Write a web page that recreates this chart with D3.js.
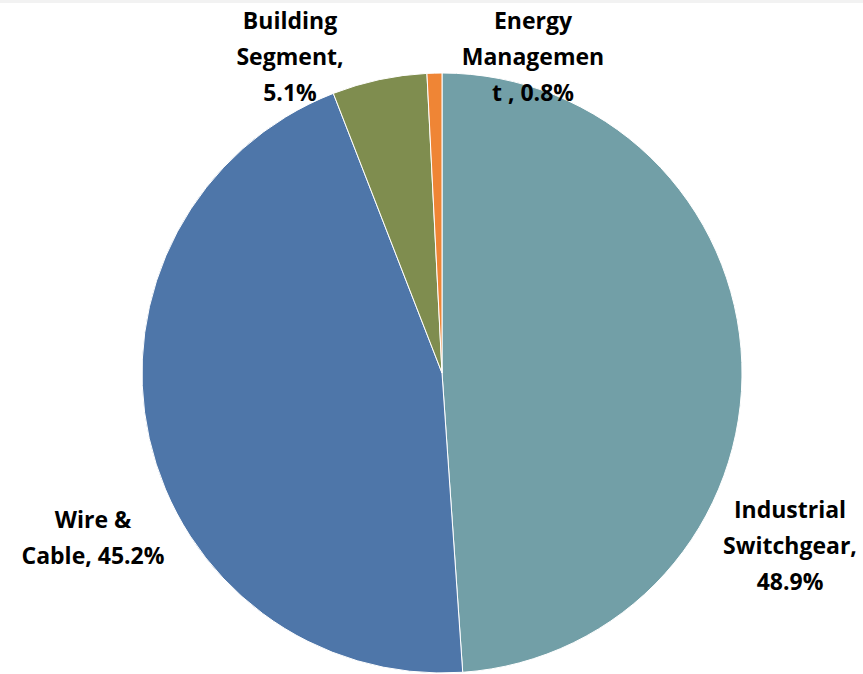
<!DOCTYPE html>
<html>
<head>
<meta charset="utf-8">
<script src="https://cdn.jsdelivr.net/npm/d3@7"></script>
<style>
  body { margin: 0; background: #fff; }
  svg { display: block; }
  .lbl { font-family: "Open Sans", sans-serif; font-weight: bold; font-size: 23px; fill: #000; }
</style>
</head>
<body>
<svg id="chart"></svg>
<script>
const segments = ['Industrial Switchgear', 'Wire & Cable', 'Building Segment', 'Energy Management'];
const shares = [48.9, 45.2, 5.1, 0.8];
const colors = ['#729FA7', '#4E76A9', '#7F8D4F', '#EF8535'];
const labelLines = [
  ['Industrial', 'Switchgear,', '48.9%'],
  ['Wire &', 'Cable, 45.2%'],
  ['Building', 'Segment,', '5.1%'],
  ['Energy', 'Managemen', 't , 0.8%']
];

const width = 863, height = 674;
const cx = 442, cy = 373, radius = 300;

const svg = d3.select('#chart')
  .attr('width', width)
  .attr('height', height);

svg.append('rect')
  .attr('width', width).attr('height', 3)
  .attr('fill', '#f2f2f2');

const pie = d3.pie().sort(null).value(d => d);
const arc = d3.arc().innerRadius(0).outerRadius(radius);
const arcs = pie(shares);

const g = svg.append('g').attr('transform', `translate(${cx},${cy})`);

g.selectAll('path')
  .data(arcs)
  .enter()
  .append('path')
  .attr('d', arc)
  .attr('fill', (d, i) => colors[i])
  .attr('stroke', '#fff')
  .attr('stroke-width', 1);

// label anchors (centre x, first baseline) relative to the page
const labelPos = [[790, 518], [93, 528], [290, 29], [533, 29]];
const lineH = 36;

svg.selectAll('text.lbl')
  .data(arcs)
  .enter()
  .append('text')
  .attr('class', 'lbl')
  .attr('text-anchor', 'middle')
  .attr('transform', (d, i) => `translate(${labelPos[i][0]},${labelPos[i][1]})`)
  .each(function(d, i) {
    d3.select(this).selectAll('tspan')
      .data(labelLines[i])
      .enter()
      .append('tspan')
      .attr('x', 0)
      .attr('y', (t, j) => j * lineH)
      .text(t => t);
  });
</script>
</body>
</html>
